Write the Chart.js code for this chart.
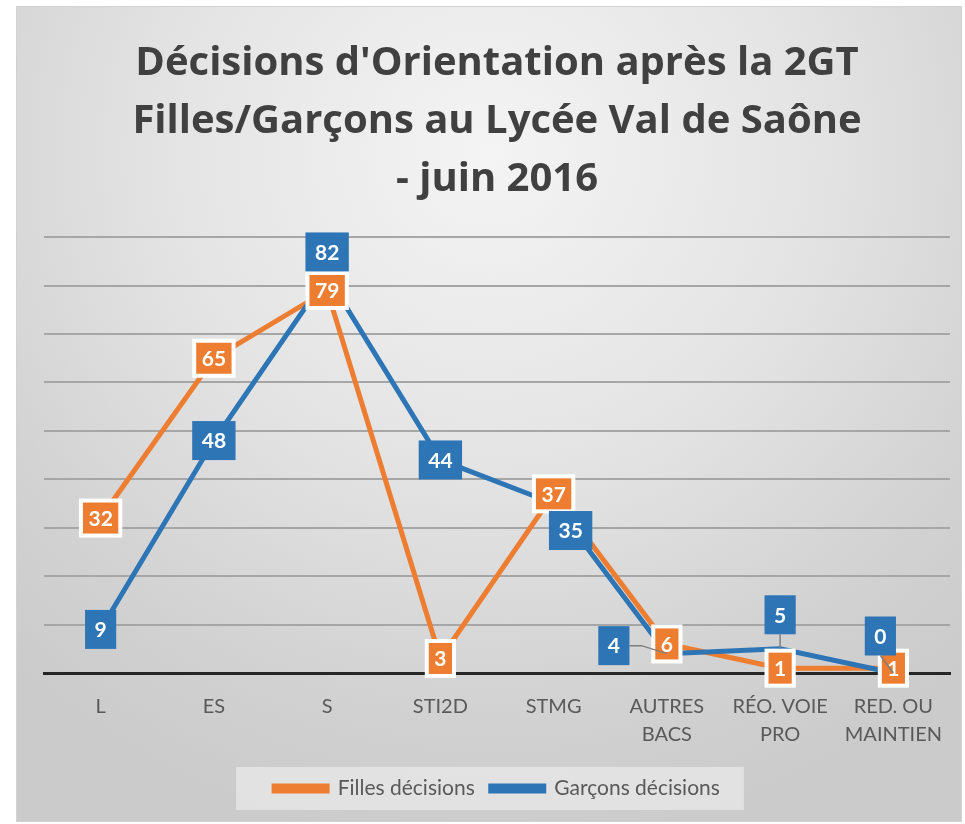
<!DOCTYPE html>
<html>
<head>
<meta charset="utf-8">
<script src="https://cdn.jsdelivr.net/npm/chart.js@4"></script>
<style>
  html, body { margin: 0; padding: 0; background: #ffffff; }
  #cadre {
    position: absolute; left: 16px; top: 6px; width: 946px; height: 816px;
    box-sizing: border-box; border: 1px solid #d2d2d2;
    background: radial-gradient(ellipse 75% 85% at 50% 18%, #f4f4f4 0%, #e4e4e4 45%, #d2d2d2 80%, #cbcbcb 100%);
  }
</style>
</head>
<body>
<div id="cadre"><canvas id="graficoOrientation"></canvas></div>
<script>
const categories = ['L', 'ES', 'S', 'STI2D', 'STMG', ['AUTRES', 'BACS'], ['RÉO. VOIE', 'PRO'], ['RED. OU', 'MAINTIEN']];
const fillesDecisions = [32, 65, 79, 3, 37, 6, 1, 1];
const garconsDecisions = [9, 48, 82, 44, 35, 4, 5, 0];
const titre = ["Décisions d'Orientation après la 2GT", 'Filles/Garçons au Lycée Val de Saône', '- juin 2016'];

const orange = '#ED7D31';
const bleu = '#2E75B6';
const police = 'Lato, "Open Sans", sans-serif';

// decalages des etiquettes (comme Excel les a deplacees), en pixels
const decalages = [
    {},
    { 2: [0, -24], 4: [17, 27], 5: [-53, -8, true], 6: [0, -34, true], 7: [-13, -37, true] }
];

const etiquettes = {
    id: 'etiquettes',
    afterDatasetsDraw(chart) {
        const ctx = chart.ctx;
        ctx.save();
        ctx.font = 'bold 21px ' + police;
        ctx.textAlign = 'center';
        ctx.textBaseline = 'middle';
        chart.data.datasets.forEach((dataset, d) => {
            const meta = chart.getDatasetMeta(d);
            meta.data.forEach((pt, i) => {
                const dec = decalages[d][i] || [0, 0];
                const x = pt.x + dec[0];
                const y = pt.y + dec[1];
                const texte = String(dataset.data[i]);
                const w = ctx.measureText(texte).width + 19;
                const h = 39;
                if (dec[2]) {
                    ctx.strokeStyle = '#7f7f7f';
                    ctx.lineWidth = 1.5;
                    ctx.beginPath();
                    if (Math.abs(dec[0]) > Math.abs(dec[1])) {
                        ctx.moveTo(x + w / 2, y);
                        ctx.lineTo(x + w / 2 + 12, y);
                    } else {
                        ctx.moveTo(x, y + h / 2);
                    }
                    ctx.lineTo(pt.x, pt.y);
                    ctx.stroke();
                }
                if (dataset.borderColor === orange) {
                    ctx.fillStyle = '#ffffff';
                    ctx.fillRect(x - w / 2, y - h / 2, w, h);
                    ctx.fillStyle = orange;
                    ctx.fillRect(x - w / 2 + 4, y - h / 2 + 4, w - 8, h - 8);
                } else {
                    ctx.fillStyle = bleu;
                    ctx.fillRect(x - w / 2, y - h / 2, w, h);
                }
                ctx.fillStyle = '#ffffff';
                ctx.fillText(texte, x, y + 1);
            });
        });
        ctx.restore();
    }
};

const fondLegende = {
    id: 'fondLegende',
    beforeDraw(chart) {
        const boites = chart.legend.legendHitBoxes;
        if (!boites || !boites.length) return;
        let gauche = Infinity, droite = -Infinity, haut = Infinity, bas = -Infinity;
        boites.forEach(b => {
            gauche = Math.min(gauche, b.left);
            droite = Math.max(droite, b.left + b.width);
            haut = Math.min(haut, b.top);
            bas = Math.max(bas, b.top + b.height);
        });
        const ctx = chart.ctx;
        ctx.save();
        ctx.fillStyle = 'rgba(240,240,240,0.6)';
        ctx.fillRect(gauche - 38, haut - 11, droite - gauche + 62, bas - haut + 22);
        ctx.restore();
    }
};

const graficoOrientation = new Chart(document.getElementById('graficoOrientation'), {
    type: 'line',
    data: {
        labels: categories,
        datasets: [{
            label: 'Filles décisions',
            data: fillesDecisions,
            borderColor: orange,
            backgroundColor: orange,
            borderWidth: 5,
            pointRadius: 0,
            order: 1
        }, {
            label: 'Garçons décisions',
            data: garconsDecisions,
            borderColor: bleu,
            backgroundColor: bleu,
            borderWidth: 5,
            pointRadius: 0,
            order: 0
        }]
    },
    options: {
        responsive: true,
        maintainAspectRatio: false,
        animation: false,
        layout: { padding: { left: 27, right: 11, top: 0, bottom: 12 } },
        scales: {
            x: {
                offset: true,
                grid: { display: false },
                border: { color: '#262626', width: 3 },
                ticks: {
                    color: '#595959',
                    font: { family: police, size: 20, lineHeight: 1.4 },
                    padding: 12,
                    maxRotation: 0,
                    autoSkip: false
                },
                afterFit: (scale) => { scale.height += 1; }
            },
            y: {
                min: 0,
                max: 90,
                ticks: { display: false, stepSize: 10 },
                border: { display: false },
                grid: {
                    color: (c) => c.tick.value === 0 ? 'rgba(0,0,0,0)' : '#a6a6a6',
                    lineWidth: 2,
                    drawTicks: false
                }
            }
        },
        plugins: {
            title: {
                display: true,
                text: titre,
                color: '#404040',
                font: { family: '"Open Sans", Lato, sans-serif', weight: 'bold', size: 40, lineHeight: 1.46 },
                padding: { top: 27, bottom: 28 }
            },
            legend: {
                position: 'bottom',
                labels: {
                    sort: (a, b) => a.datasetIndex - b.datasetIndex,
                    boxWidth: 53,
                    boxHeight: 5,
                    color: '#595959',
                    font: { family: police, size: 21 },
                    padding: 16
                }
            },
            tooltip: { enabled: false }
        }
    },
    plugins: [fondLegende, etiquettes]
});
</script>
</body>
</html>
